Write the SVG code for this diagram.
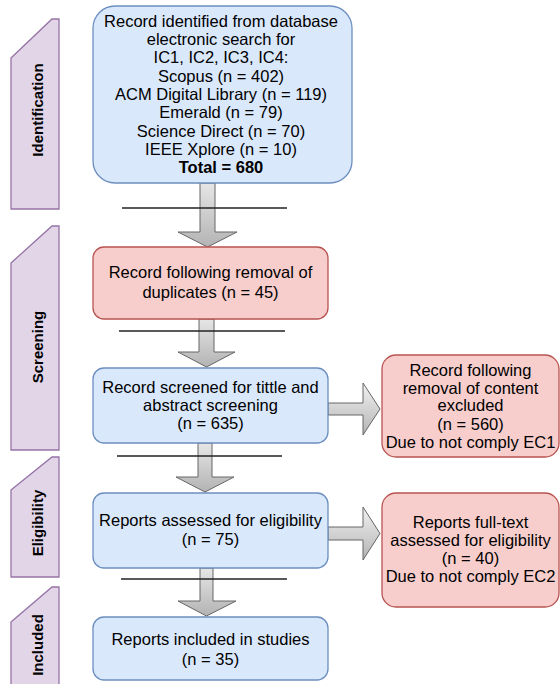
<svg xmlns="http://www.w3.org/2000/svg" width="560" height="684" viewBox="0 0 560 684">
<style>
text{font-family:"Liberation Sans",Arial,sans-serif;font-size:16.5px;fill:#000;text-anchor:middle}
.side{fill:#e1d5e7;stroke:#9673a6;stroke-width:1.3}
.lbl{font-weight:bold;font-size:15px;dominant-baseline:central}
.blue{fill:#dae8fc;stroke:#6c8ebf;stroke-width:1.3}
.red{fill:#f8cecc;stroke:#b85450;stroke-width:1.3}
.arr{fill:url(#g);stroke:#666;stroke-width:1}
.harr{fill:url(#gh);stroke:#666;stroke-width:1}
.sep{stroke:#222;stroke-width:1.3}
</style>
<defs>
<linearGradient id="g" x1="0" y1="0" x2="0" y2="1"><stop offset="0" stop-color="#e6e6e6"/><stop offset="1" stop-color="#b3b3b3"/></linearGradient>
<linearGradient id="gh" x1="0" y1="0" x2="0" y2="1"><stop offset="0" stop-color="#f2f2f2"/><stop offset="1" stop-color="#b3b3b3"/></linearGradient>
</defs>
<g id="phase-identification"><path class="side" d="M11,58 L52,19 L59,19 L59,209 L11,209 Z"/><text class="lbl" transform="translate(37,110) rotate(-90)">Identification</text></g>
<g id="phase-screening"><path class="side" d="M11,263 L52,226 L59,226 L59,450 L11,450 Z"/><text class="lbl" transform="translate(37,347) rotate(-90)">Screening</text></g>
<g id="phase-eligibility"><path class="side" d="M11,490 L52,457 L59,457 L59,577 L11,577 Z"/><text class="lbl" transform="translate(37,523) rotate(-90)">Eligibility</text></g>
<g id="phase-included"><path class="side" d="M11,622 L52,587 L59,587 L59,690 L11,690 Z"/><text class="lbl" transform="translate(37,645) rotate(-90)">Included</text></g>
<g id="connectors">
<path class="arr" d="M200,183 L215,183 L215,232 L237,232 L207.5,247 L178,232 L200,232 Z"/>
<path class="arr" d="M199,319 L214,319 L214,352 L235,352 L206.5,367 L178,352 L199,352 Z"/>
<path class="arr" d="M198,443 L212,443 L212,477 L234,477 L205,492 L176,477 L198,477 Z"/>
<path class="arr" d="M200,568 L213,568 L213,601 L236,601 L206.5,616 L178,601 L200,601 Z"/>
<path class="harr" d="M328,403 L363,403 L363,383 L380,409 L363,435 L363,415 L328,415 Z"/>
<path class="harr" d="M328,527 L363,527 L363,507 L380,533.5 L363,560 L363,540 L328,540 Z"/>
<line class="sep" x1="122" y1="208" x2="287" y2="208"/>
<line class="sep" x1="119" y1="331" x2="285" y2="331"/>
<line class="sep" x1="117" y1="456" x2="282" y2="456"/>
<line class="sep" x1="121" y1="579" x2="287" y2="579"/>
</g>
<g id="node-identified"><rect class="blue" x="93" y="6" width="259" height="177" rx="22"/>
<text x="221" y="27">Record identified from database</text>
<text x="221" y="45">electronic search for</text>
<text x="221" y="63">IC1, IC2, IC3, IC4:</text>
<text x="221" y="82">Scopus (n = 402)</text>
<text x="221" y="100">ACM Digital Library (n = 119)</text>
<text x="221" y="118">Emerald (n = 79)</text>
<text x="221" y="137">Science Direct (n = 70)</text>
<text x="221" y="155">IEEE Xplore (n = 10)</text>
<text x="221" y="173" font-weight="bold">Total = 680</text></g>
<g id="node-duplicates"><rect class="red" x="93" y="247" width="235" height="72" rx="11"/>
<text x="210.5" y="278">Record following removal of</text>
<text x="210.5" y="298">duplicates (n = 45)</text></g>
<g id="node-screened"><rect class="blue" x="93" y="368" width="235" height="75" rx="11"/>
<text x="210.5" y="393">Record screened for tittle and</text>
<text x="210.5" y="411">abstract screening</text>
<text x="210.5" y="429">(n = 635)</text></g>
<g id="node-assessed"><rect class="blue" x="93" y="493" width="235" height="75" rx="11"/>
<text x="210.5" y="526">Reports assessed for eligibility</text>
<text x="210.5" y="545">(n = 75)</text></g>
<g id="node-included"><rect class="blue" x="93" y="617" width="235" height="63" rx="11"/>
<text x="210.5" y="645">Reports included in studies</text>
<text x="210.5" y="665">(n = 35)</text></g>
<g id="node-excluded1"><rect class="red" x="382" y="355" width="177" height="102" rx="14"/>
<text x="470.5" y="376">Record following</text>
<text x="470.5" y="394">removal of content</text>
<text x="470.5" y="411">excluded</text>
<text x="470.5" y="430">(n = 560)</text>
<text x="470.5" y="448">Due to not comply EC1</text></g>
<g id="node-excluded2"><rect class="red" x="382" y="493" width="177" height="114" rx="14"/>
<text x="470.5" y="528">Reports full-text</text>
<text x="470.5" y="546">assessed for eligibility</text>
<text x="470.5" y="564">(n = 40)</text>
<text x="470.5" y="582">Due to not comply EC2</text></g>
</svg>
